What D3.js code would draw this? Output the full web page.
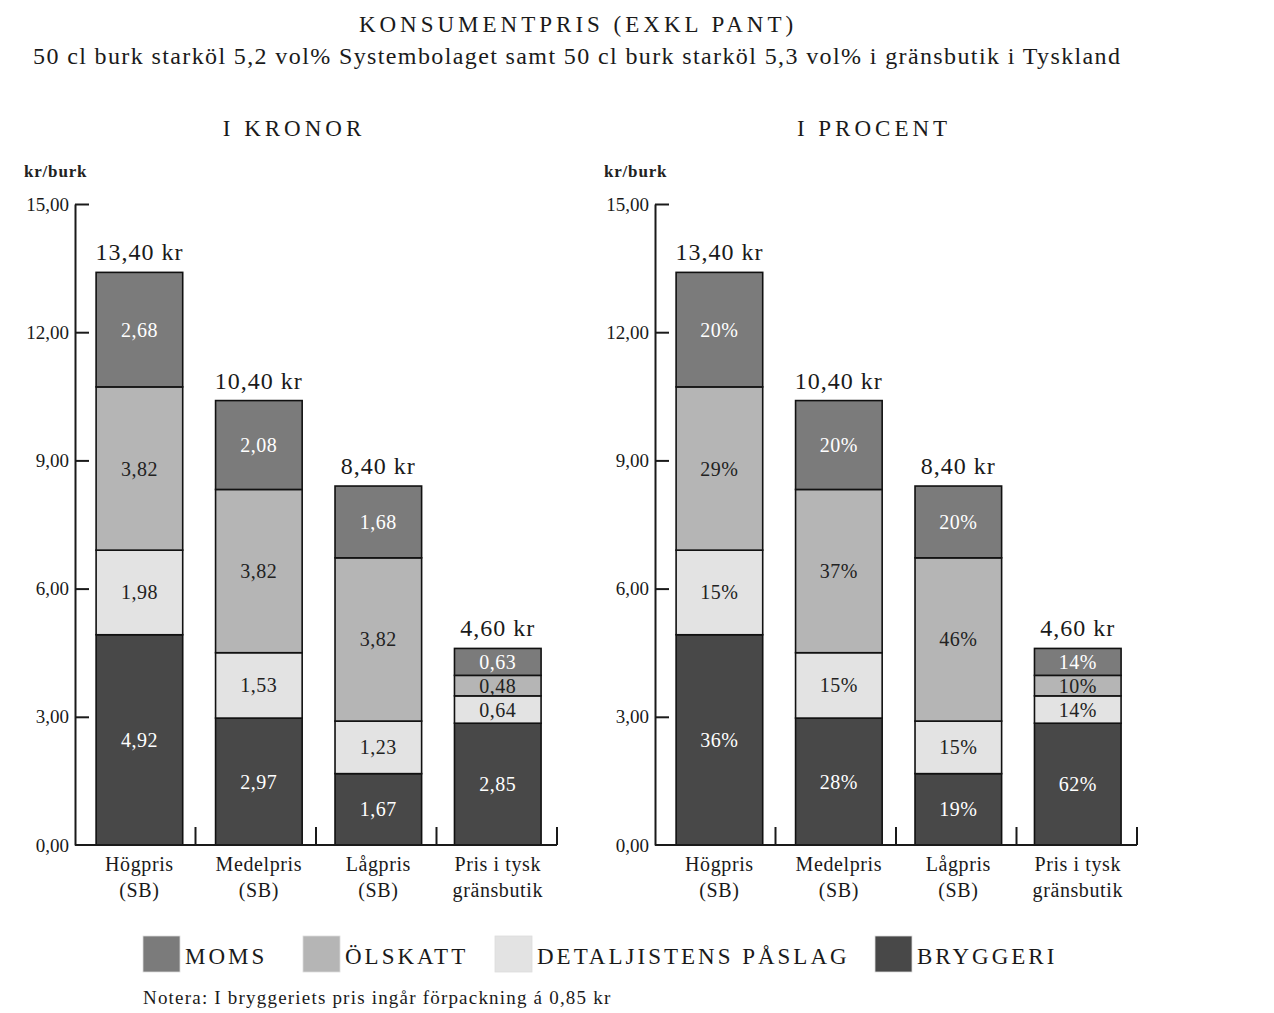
<!DOCTYPE html>
<html>
<head>
<meta charset="utf-8">
<script src="https://cdn.jsdelivr.net/npm/d3@7"></script>
<style>
  html, body { margin: 0; padding: 0; background: #fff; }
  svg { display: block; font-family: "Liberation Serif", "DejaVu Serif", serif; }
</style>
</head>
<body>
<svg id="chart" width="1274" height="1013"></svg>
<script>
// ---- data ----
const categories = ["Högpris", "Medelpris", "Lågpris", "Pris i tysk"];
const categoryLine2 = ["(SB)", "(SB)", "(SB)", "gränsbutik"];
const seriesKeys = ["bryggeri", "detaljist", "olskatt", "moms"]; // bottom -> top
const seriesNames = { moms: "MOMS", olskatt: "ÖLSKATT", detaljist: "DETALJISTENS PÅSLAG", bryggeri: "BRYGGERI" };
const legendOrder = ["moms", "olskatt", "detaljist", "bryggeri"];
const bryggeri  = [4.92, 2.97, 1.67, 2.85];
const detaljist = [1.98, 1.53, 1.23, 0.64];
const olskatt   = [3.82, 3.82, 3.82, 0.48];
const moms      = [2.68, 2.08, 1.68, 0.63];
const bryggeriPct  = [36, 28, 19, 62];
const detaljistPct = [15, 15, 15, 14];
const olskattPct   = [29, 37, 46, 10];
const momsPct      = [20, 20, 20, 14];
const yTicks = [0, 3, 6, 9, 12, 15];
const titleText = "KONSUMENTPRIS (EXKL PANT)";
const subtitleText = "50 cl burk starköl 5,2 vol% Systembolaget samt 50 cl burk starköl 5,3 vol% i gränsbutik i Tyskland";
const panelTitles = ["I KRONOR", "I PROCENT"];
const yUnit = "kr/burk";
const noteText = "Notera: I bryggeriets pris ingår förpackning á 0,85 kr";

const colors = { moms: "#7b7b7b", olskatt: "#b5b5b5", detaljist: "#e3e3e3", bryggeri: "#484848" };
const textColors = { moms: "#fff", olskatt: "#222", detaljist: "#222", bryggeri: "#fff" };

const rows = categories.map((c, i) => ({
  cat: c, bryggeri: bryggeri[i], detaljist: detaljist[i], olskatt: olskatt[i], moms: moms[i],
  pct: { bryggeri: bryggeriPct[i], detaljist: detaljistPct[i], olskatt: olskattPct[i], moms: momsPct[i] }
}));
const stacked = d3.stack().keys(seriesKeys)(rows);

const loc = d3.formatLocale({ decimal: ",", thousands: " ", grouping: [3], currency: ["", " kr"] });
const f2 = loc.format(".2f");

const svg = d3.select("#chart");
const ink = "#1a1a1a";

// title
svg.append("text").attr("x", 578).attr("y", 32).attr("text-anchor", "middle")
  .attr("font-size", 23).attr("letter-spacing", 4).attr("fill", ink).text(titleText);
svg.append("text").attr("x", 33).attr("y", 64)
  .attr("font-size", 24).attr("textLength", 1087).attr("lengthAdjust", "spacing")
  .attr("fill", ink).text(subtitleText);

const y = d3.scaleLinear().domain([0, 15]).range([845, 204]);
const panelX = [75, 655];
const axisW = 482;

panelX.forEach((px, p) => {
  const g = svg.append("g").attr("transform", `translate(${px},0)`);
  const x = d3.scaleBand().domain(categories).range([0, axisW])
    .paddingInner(0.275).paddingOuter(0.155).align(0.57);
  const xt = d3.scaleBand().domain(categories).range([0, axisW]).padding(0);

  // panel title
  g.append("text").attr("x", 219).attr("y", 136).attr("text-anchor", "middle")
    .attr("font-size", 23).attr("letter-spacing", 4).attr("fill", ink).text(panelTitles[p]);
  g.append("text").attr("x", -51).attr("y", 177).attr("font-size", 17).attr("font-weight", "bold")
    .attr("letter-spacing", 0.8).attr("fill", "#222").text(yUnit);

  // bars
  stacked.forEach(layer => {
    const key = layer.key;
    const lg = g.append("g");
    lg.selectAll("rect").data(layer).join("rect")
      .attr("x", d => x(d.data.cat))
      .attr("width", x.bandwidth())
      .attr("y", d => y(d[1]))
      .attr("height", d => y(d[0]) - y(d[1]))
      .attr("fill", colors[key])
      .attr("stroke", "#111").attr("stroke-width", 1.6);
    lg.selectAll("text").data(layer).join("text")
      .attr("x", d => x(d.data.cat) + x.bandwidth() / 2)
      .attr("y", d => (y(d[0]) + y(d[1])) / 2 + 7)
      .attr("text-anchor", "middle")
      .attr("font-size", 20)
      .attr("letter-spacing", 0.5)
      .attr("fill", textColors[key])
      .text(d => p === 0 ? f2(d.data[key]) : d.data.pct[key] + "%");
  });

  // totals
  const top = stacked[stacked.length - 1];
  g.selectAll(".tot").data(top).join("text").attr("class", "tot")
    .attr("x", d => x(d.data.cat) + x.bandwidth() / 2)
    .attr("y", d => y(d[1]) - 12)
    .attr("text-anchor", "middle").attr("font-size", 24).attr("letter-spacing", 1).attr("fill", ink)
    .text(d => f2(d[1]) + " kr");

  // y axis
  const ya = d3.axisLeft(y).tickValues(yTicks).tickSizeInner(-14).tickSizeOuter(0)
    .tickPadding(6).tickFormat(f2);
  const yg = g.append("g").call(ya);
  yg.selectAll("path, line").attr("stroke", ink).attr("stroke-width", 2);
  yg.selectAll("text").attr("font-size", 19).attr("fill", ink).attr("font-family", "Liberation Serif");
  yg.selectAll(".tick").filter(d => d === 0).select("line").remove();

  // x axis
  const xg = g.append("g");
  xg.append("line").attr("x1", 0).attr("x2", axisW).attr("y1", y(0)).attr("y2", y(0))
    .attr("stroke", ink).attr("stroke-width", 2);
  xg.selectAll(".xt").data(categories).join("line").attr("class", "xt")
    .attr("x1", d => xt(d) + xt.bandwidth()).attr("x2", d => xt(d) + xt.bandwidth())
    .attr("y1", y(0)).attr("y2", y(0) - 18).attr("stroke", ink).attr("stroke-width", 2);
  const lab = xg.selectAll(".xl").data(categories).join("text").attr("class", "xl")
    .attr("text-anchor", "middle").attr("font-size", 20).attr("letter-spacing", 0.6).attr("fill", ink);
  lab.append("tspan").attr("x", d => x(d) + x.bandwidth() / 2).attr("y", 871).text(d => d);
  lab.append("tspan").attr("x", d => x(d) + x.bandwidth() / 2).attr("y", 897)
    .text((d, i) => categoryLine2[i]);
});

// legend
const legX = [143, 303, 495, 875];
const leg = svg.append("g");
legendOrder.forEach((k, i) => {
  leg.append("rect").attr("x", legX[i]).attr("y", 936).attr("width", 37).attr("height", 36)
    .attr("fill", colors[k]).attr("stroke", "#ddd").attr("stroke-width", 0.8);
  leg.append("text").attr("x", legX[i] + 42).attr("y", 964).attr("font-size", 23)
    .attr("letter-spacing", 3).attr("fill", ink).text(seriesNames[k]);
});
svg.append("text").attr("x", 143).attr("y", 1004).attr("font-size", 19).attr("letter-spacing", 1.2)
  .attr("fill", ink).text(noteText);
</script>
</body>
</html>
